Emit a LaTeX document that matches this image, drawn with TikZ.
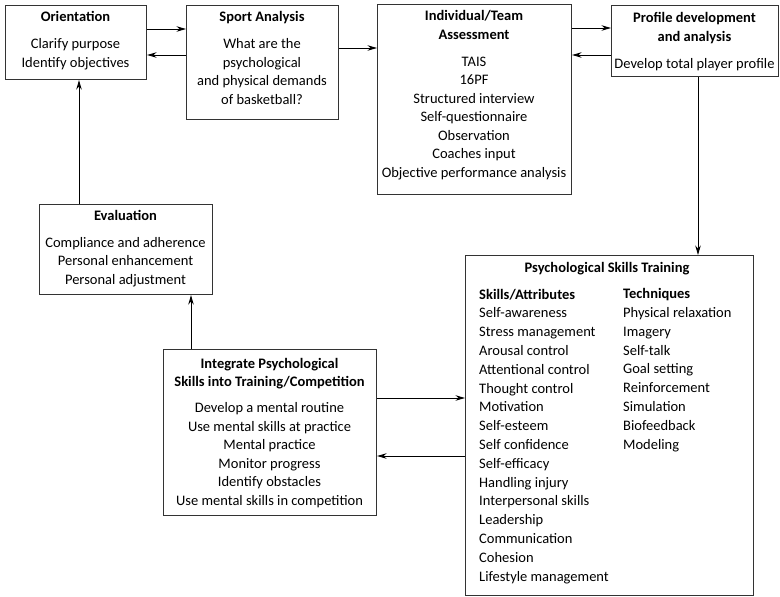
\documentclass[tikz,border=0pt]{standalone}
\usepackage{fontspec}
\setmainfont{Carlito}
\usetikzlibrary{arrows.meta}

\begin{document}
\begin{tikzpicture}[x=1pt, y=-1pt,
    box/.style={draw=black!80, line width=1.1pt, anchor=north west, inner sep=0pt},
    txt/.style={anchor=base, align=center, inner sep=0pt, font=\fontsize{14.5}{18.5}\selectfont},
    lst/.style={anchor=base west, align=left, inner sep=0pt, font=\fontsize{14.5}{18.8}\selectfont},
    flow/.style={-{Stealth[length=9.5pt, width=5.5pt]}, line width=0.9pt}]
    \useasboundingbox (0,0) rectangle (780,597);

    % boxes
    \node (orient) [box, minimum width=141, minimum height=74] at (5,5) {};
    \node (sport) [box, minimum width=152, minimum height=114] at (186,5) {};
    \node (assess) [box, minimum width=194, minimum height=190] at (377,4) {};
    \node (profile) [box, minimum width=167, minimum height=71] at (611,5) {};
    \node (evalu) [box, minimum width=173, minimum height=90] at (39,204) {};
    \node (integ) [box, minimum width=213, minimum height=166] at (163,349) {};
    \node (pst) [box, minimum width=288, minimum height=340] at (465,255) {};

    % texts (placed by the baseline of their last line)
    \node (orient-t) [txt] at (75.5,67) {\textbf{Orientation}\\[8.5pt]
        Clarify purpose\\Identify objectives};
    \node (sport-t) [txt] at (262,104) {\textbf{Sport Analysis}\\[8.5pt]
        What are the\\psychological\\and physical demands\\of basketball?};
    \node (assess-t) [txt] at (474,177) {\textbf{Individual/Team}\\\textbf{Assessment}\\[8.5pt]
        TAIS\\16PF\\Structured interview\\Self-questionnaire\\Observation\\
        Coaches input\\Objective performance analysis};
    \node (profile-t) [txt] at (694.5,68) {\textbf{Profile development}\\\textbf{and analysis}\\[8.5pt]
        Develop total player profile};
    \node (evalu-t) [txt] at (125.5,284) {\textbf{Evaluation}\\[8.5pt]
        Compliance and adherence\\Personal enhancement\\Personal adjustment};
    \node (integ-t) [txt] at (269.5,505) {\textbf{Integrate Psychological}\\
        \textbf{Skills into Training/Competition}\\[7.5pt]
        Develop a mental routine\\Use mental skills at practice\\Mental practice\\
        Monitor progress\\Identify obstacles\\Use mental skills in competition};
    \node (pst-t) [txt] at (607,272) {\textbf{Psychological Skills Training}};
    \node (skills) [lst] at (479,581) {\textbf{Skills/Attributes}\\
        Self-awareness\\Stress management\\Arousal control\\Attentional control\\
        Thought control\\Motivation\\Self-esteem\\Self confidence\\Self-efficacy\\
        Handling injury\\Interpersonal skills\\Leadership\\Communication\\
        Cohesion\\Lifestyle management};
    \node (techn) [lst] at (623,449) {\textbf{Techniques}\\
        Physical relaxation\\Imagery\\Self-talk\\Goal setting\\Reinforcement\\
        Simulation\\Biofeedback\\Modeling};

    % connectors
    \draw [flow] (orient.east |- 0,29) -- (sport.west |- 0,29);
    \draw [flow] (sport.west |- 0,55) -- (orient.east |- 0,55);
    \draw [flow] (sport.east |- 0,48) -- (assess.west |- 0,48);
    \draw [flow] (assess.east |- 0,28) -- (profile.west |- 0,28);
    \draw [flow] (profile.west |- 0,55) -- (assess.east |- 0,55);
    \draw [flow] (profile.south -| 698,0) -- (pst.north -| 698,0);
    \draw [flow] (integ.east |- 0,398) -- (pst.west |- 0,398);
    \draw [flow] (pst.west |- 0,456) -- (integ.east |- 0,456);
    \draw [flow] (integ.north -| 191,0) -- (evalu.south -| 191,0);
    \draw [flow] (evalu.north -| 79,0) -- (orient.south -| 79,0);
\end{tikzpicture}
\end{document}
